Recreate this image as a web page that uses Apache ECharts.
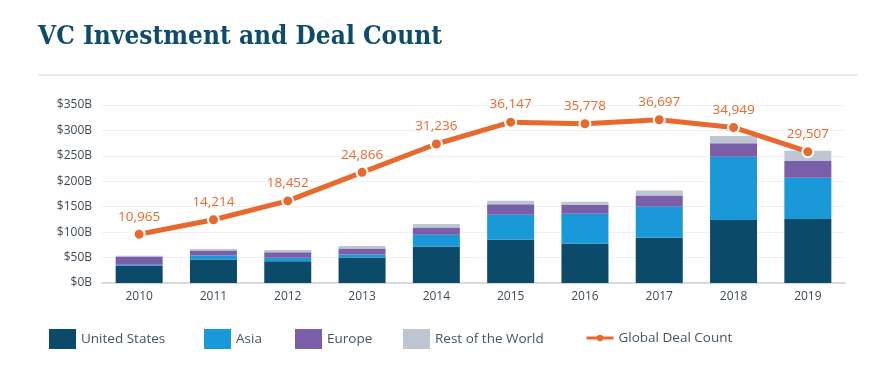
<!DOCTYPE html>
<html><head><meta charset="utf-8">
<script src="https://cdn.jsdelivr.net/npm/echarts@6/dist/echarts.min.js"></script>
<style>html,body{margin:0;padding:0;background:#fff}#c{width:876px;height:373px}</style>
</head><body><div id="c"></div>
<script>
const years = ['2010','2011','2012','2013','2014','2015','2016','2017','2018','2019'];
const unitedStates = [34, 46, 43, 50, 72, 85, 77, 89, 124, 126];
const asia = [2, 8, 6.5, 6, 23, 49, 59, 61, 124, 81];
const europe = [15, 10, 11, 12, 14, 21, 18, 22, 27, 33];
const restOfWorld = [2.6, 3, 4.6, 4.6, 7, 6.5, 6, 10, 14, 20];
const dealCount = [10965, 14214, 18452, 24866, 31236, 36147, 35778, 36697, 34949, 29507];
const yTicks = [0, 50, 100, 150, 200, 250, 300, 350];
const legendNames = ['United States', 'Asia', 'Europe', 'Rest of the World', 'Global Deal Count'];

const chart = echarts.init(document.getElementById('c'));
const font = '"Open Sans", Lato, sans-serif';
const barSeries = (name, data, color) => ({
  name, type: 'bar', stack: 'inv', data, barWidth: 47,
  itemStyle: { color }, emphasis: { disabled: true }
});
const legendLeft = [49, 204, 295, 403, 585];
const legends = legendNames.map((n, i) => {
  const isLine = i === legendNames.length - 1;
  const lg = {
    data: [isLine ? n : { name: n, icon: 'rect' }], left: legendLeft[i], top: isLine ? 331 : 329, padding: 0,
    itemWidth: 27, itemHeight: isLine ? 8 : 20, itemGap: 6,
    textStyle: { fontFamily: font, fontSize: 13.5, color: '#46535f' },
    selectedMode: false
  };
  if (isLine) {
    lg.itemGap = 4;
    lg.lineStyle = { width: 3 };
    lg.itemStyle = { borderWidth: 0 };
  }
  return lg;
});
chart.setOption({
  animation: false,
  title: {
    text: 'VC Investment and Deal Count', left: 38, top: 24, padding: 0,
    textStyle: { fontFamily: '"DejaVu Serif Condensed", "DejaVu Serif", serif', fontWeight: 'bold', fontSize: 26, color: '#0f4c6b' }
  },
  graphic: [{ type: 'line', shape: { x1: 38, y1: 75, x2: 858, y2: 75 }, style: { stroke: '#cbd4dd', lineWidth: 1 } }],
  legend: legends,
  grid: { left: 102, right: 31, top: 105, bottom: 90 },
  xAxis: {
    type: 'category', data: years,
    axisLine: { lineStyle: { color: '#c9d2da', width: 1.5 } },
    axisTick: { show: false },
    axisLabel: { color: '#3f4a55', fontFamily: font, fontSize: 12, margin: 8 }
  },
  yAxis: [{
    type: 'value', min: yTicks[0], max: yTicks[yTicks.length - 1], interval: 50,
    axisLabel: { formatter: v => '$' + v + 'B', color: '#3f4a55', fontFamily: font, fontSize: 12, margin: 10 },
    splitLine: { lineStyle: { color: '#eef1f4' } },
    axisLine: { show: false }, axisTick: { show: false }
  }, {
    type: 'value', min: 0, max: 40000, show: false, splitLine: { show: false }
  }],
  series: [
    barSeries('United States', unitedStates, '#0b4a69'),
    barSeries('Asia', asia, '#1a99d8'),
    barSeries('Europe', europe, '#7a5fa8'),
    barSeries('Rest of the World', restOfWorld, '#bec6d1'),
    {
      name: 'Global Deal Count', type: 'line', yAxisIndex: 1, data: dealCount, z: 10,
      lineStyle: { color: '#e8692d', width: 5 },
      itemStyle: { color: '#e8692d', borderColor: '#fff', borderWidth: 2 },
      symbol: 'circle', symbolSize: 11,
      label: {
        show: true, position: 'top', distance: 4, color: '#e8692d',
        fontFamily: font, fontSize: 13.5,
        formatter: p => p.value.toLocaleString('en-US')
      },
      emphasis: { disabled: true }
    }
  ]
});
</script></body></html>
